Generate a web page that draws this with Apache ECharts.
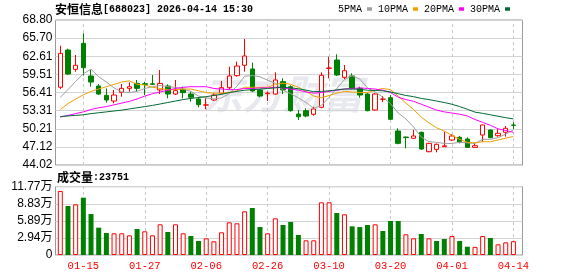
<!DOCTYPE html>
<html><head><meta charset="utf-8">
<script src="https://cdn.jsdelivr.net/npm/echarts@6/dist/echarts.min.js"></script>
<style>html,body{margin:0;padding:0;background:#fff}#c{width:578px;height:276px}</style>
</head><body><div id="c"></div>
<script>
const dates = ['01-12','01-13','01-14','01-15','01-16','01-19','01-20','01-21','01-22','01-23',
'01-26','01-27','01-28','01-29','01-30','02-02','02-03','02-04','02-05','02-06',
'02-09','02-10','02-11','02-12','02-13','02-24','02-25','02-26','02-27','03-02',
'03-03','03-04','03-05','03-06','03-09','03-10','03-11','03-12','03-13','03-16',
'03-17','03-18','03-19','03-20','03-23','03-24','03-25','03-26','03-27','03-30',
'03-31','04-01','04-02','04-03','04-07','04-08','04-09','04-10','04-13','04-14'];
const opens = [57.30,63.67,60.37,64.81,59.23,57.52,55.93,54.96,56.44,57.12,
57.97,57.92,57.90,56.84,57.52,56.15,56.96,56.15,55.30,54.25,
55.13,56.27,57.23,59.29,61.06,60.43,56.84,56.22,56.15,58.26,
57.40,52.73,53.30,52.68,53.88,60.52,61.96,59.00,59.23,57.12,
56.15,53.42,55.25,55.53,49.83,48.80,48.58,49.61,46.29,46.69,
47.15,48.29,48.75,48.46,47.04,49.15,50.00,49.03,49.61,50.85];
const closes = [63.10,59.57,61.06,60.65,58.20,56.15,55.13,55.98,57.12,57.40,
57.12,57.80,57.80,57.97,56.15,56.72,56.38,55.59,54.33,54.30,
55.98,57.23,59.23,60.94,62.65,56.67,55.81,56.30,58.55,56.84,
53.30,52.27,52.39,53.59,59.35,60.60,59.40,60.14,57.12,55.98,
53.30,56.15,55.30,51.83,47.72,48.70,48.98,46.75,47.72,47.56,
47.30,48.98,48.00,47.04,47.32,50.86,48.69,49.43,50.29,50.80];
const lows = [57.00,59.40,59.97,59.30,57.40,55.98,54.67,54.56,55.69,56.55,
56.55,55.98,57.69,56.15,55.42,55.98,55.42,54.84,53.88,53.54,
54.96,56.15,56.96,59.11,59.97,56.50,55.59,54.96,56.04,56.15,
53.13,51.71,52.17,52.45,53.71,58.83,59.23,58.67,56.96,55.53,
53.20,53.30,54.79,51.71,47.56,46.87,48.58,46.60,46.20,46.19,
47.15,48.12,47.72,46.92,47.00,48.00,48.60,48.86,48.86,50.17];
const highs = [64.40,63.90,62.82,66.52,60.37,57.86,57.12,56.84,57.86,58.15,
58.55,58.26,59.40,60.25,57.80,58.55,57.40,56.55,55.59,55.42,
56.27,58.38,60.82,61.68,65.55,61.50,57.00,56.55,59.86,58.83,
57.64,53.42,53.71,53.98,59.86,62.53,62.94,61.11,59.69,57.40,
56.30,56.30,55.81,55.98,50.29,48.86,50.00,49.70,47.80,47.70,
49.71,49.32,48.98,48.75,47.83,50.90,50.10,50.12,50.69,51.32];
const ma5 = [55.6,56.9,58.3,59.6,60.4,59.1,58.2,57.2,56.5,56.4,
56.6,57.1,57.4,57.6,57.4,57.3,57.0,56.6,55.8,55.5,
55.3,55.5,56.2,57.5,59.2,59.3,59.1,58.5,58.0,56.8,
56.2,55.5,54.7,53.7,54.2,55.6,57.1,58.6,59.3,58.7,
57.2,56.5,55.6,54.5,52.9,51.9,50.5,48.8,48.0,47.9,
47.7,47.7,47.9,47.8,47.7,48.4,48.4,48.7,49.3,50.0];
const ma10 = [53.5,54.5,55.3,56.0,56.6,57.0,57.4,57.8,58.2,58.4,
57.8,57.7,57.3,57.1,56.9,56.9,57.0,57.0,56.7,56.4,
56.3,56.3,56.4,56.7,57.3,57.3,57.3,57.3,57.8,58.0,
57.8,57.3,56.6,55.8,55.5,55.9,56.3,56.6,56.5,56.4,
56.4,56.8,57.1,56.9,55.8,54.6,53.5,52.2,51.2,50.4,
49.8,49.1,48.4,47.9,47.8,48.0,48.0,48.3,48.6,48.9];
const ma20 = [52.2,52.5,52.8,53.1,53.5,53.8,54.0,54.3,54.6,54.9,
55.3,55.8,56.2,56.5,56.8,57.1,57.3,57.4,57.4,57.4,
57.1,57.0,56.9,56.9,57.1,57.1,57.2,57.2,57.3,57.2,
57.0,56.8,56.5,56.3,56.4,56.6,56.8,57.0,57.1,57.2,
57.1,57.0,56.8,56.4,55.6,55.2,54.9,54.4,53.9,53.4,
53.1,52.9,52.7,52.4,51.8,51.3,50.8,50.2,49.9,49.6];
const ma30 = [52.3,52.4,52.5,52.6,52.8,52.95,53.1,53.25,53.4,53.6,
53.8,54.0,54.2,54.45,54.7,54.95,55.2,55.4,55.55,55.7,
55.9,56.1,56.4,56.6,56.8,56.9,57.0,57.1,57.2,57.3,
57.2,57.05,56.8,56.55,56.6,56.7,56.85,57.0,57.0,56.95,
56.8,56.75,56.7,56.5,56.2,55.9,55.7,55.4,55.2,54.95,
54.7,54.4,54.0,53.55,53.05,52.85,52.6,52.35,52.1,51.9];
const volumes = [110300,84400,87300,98800,70600,47100,37900,37400,37400,33900,
44800,40800,33900,52900,39600,52900,37400,32700,24100,28700,
23600,39100,56300,54600,75300,81000,48200,37400,63200,51700,
56900,34500,25300,25300,90800,90800,72400,70100,49400,48200,
51700,52900,41400,58600,58600,35700,28800,36200,28800,24100,
27600,32700,24100,14300,14000,32700,29300,18400,21800,23751];
const volDir = [1,-1,1,-1,-1,-1,-1,1,1,1,
-1,1,1,1,-1,1,1,-1,-1,1,
1,1,1,1,1,-1,-1,1,1,-1,
-1,-1,1,1,1,1,-1,1,-1,-1,
-1,1,-1,-1,-1,1,1,-1,1,-1,
-1,1,-1,-1,1,1,-1,1,1,1];
const priceTicks = ['44.02','47.12','50.21','53.31','56.41','59.51','62.61','65.70','68.80'];
const volTicks = ['0','2.94万','5.89万','8.83万','11.77万'];
const xTickLabels = ['01-15','01-27','02-06','02-26','03-10','03-20','04-01','04-14'];
const maNames = ['5PMA','10PMA','20PMA','30PMA'];

const RED = '#ff0000', GREEN = '#008000';
const MONO = 'Liberation Mono';
const chart = echarts.init(document.getElementById('c'));

const frameY = (ticks) => ({
  type: 'value', min: 0, max: ticks.length - 1, interval: 1,
  axisLine: {show: false}, axisTick: {show: false},
  axisLabel: {formatter: v => ticks[Math.round(v)], color: '#000', fontSize: 12,
    fontFamily: 'Liberation Sans, Noto Sans CJK SC', margin: 3},
  splitLine: {lineStyle: {color: '#d4d4d4', width: 1}}
});
const vLines = {
  silent: true, symbol: ['none', 'none'], label: {show: false}, z: 1, animation: false,
  lineStyle: {type: [3, 3], color: '#c8c8c8', width: 1},
  emphasis: {disabled: true},
  data: xTickLabels.map(d => ({xAxis: d}))
};

const maColors = ['#a0a0a0', '#f0a000', '#ff00ff', '#006a35'];
const maData = [ma5, ma10, ma20, ma30];

chart.setOption({
  animation: false,
  backgroundColor: '#fff',
  title: [
    {text: '{a|安恒信息}{b|[688023] 2026-04-14 15:30}', left: 55, top: 3, padding: 0,
     textStyle: {rich: {a: {fontFamily: 'Noto Sans CJK SC', fontSize: 12, color: '#000'},
                        b: {fontFamily: MONO, fontSize: 10, color: '#000'}}}},
    {text: '{a|成交量}{b|:' + volumes[volumes.length - 1] + '}', left: 57, top: 171, padding: 0,
     textStyle: {rich: {a: {fontFamily: 'Noto Sans CJK SC', fontSize: 12, color: '#000'},
                        b: {fontFamily: MONO, fontSize: 10, color: '#000'}}}}
  ],
  legend: {
    data: maNames, left: 338, top: 4, padding: 0, align: 'right', icon: 'rect',
    itemWidth: 5, itemHeight: 3.5, itemGap: 6, selectedMode: false,
    textStyle: {fontFamily: MONO, fontSize: 10, color: '#000'}
  },
  graphic: [{type: 'text', left: 203, top: 74, z: -10, silent: true,
    style: {text: '东方财富', font: 'italic bold 40px "Noto Sans CJK SC"', fill: '#e8e9ee'}}],
  grid: [
    {left: 55.5, top: 20, width: 467, height: 145, show: true, borderColor: '#999', borderWidth: 1},
    {left: 56.46, top: 20, width: 460.8, height: 145},
    {left: 55.5, top: 186.7, width: 467, height: 68.3, show: true, borderColor: '#999', borderWidth: 1},
    {left: 56.46, top: 186.7, width: 460.8, height: 68.3}
  ],
  xAxis: [
    {gridIndex: 0, type: 'value', min: 0, max: 1, show: false},
    {gridIndex: 1, type: 'category', data: dates, show: false},
    {gridIndex: 2, type: 'value', min: 0, max: 1, show: false},
    {gridIndex: 3, type: 'category', data: dates,
     axisLine: {show: false}, axisTick: {show: false}, splitLine: {show: false},
     axisLabel: {interval: (i, v) => xTickLabels.includes(v), color: RED, fontFamily: MONO,
       fontSize: 10.5, margin: 6}}
  ],
  yAxis: [
    Object.assign({gridIndex: 0}, frameY(priceTicks)),
    {gridIndex: 1, type: 'value', min: 44.02, max: 68.80, show: false},
    Object.assign({gridIndex: 2}, frameY(volTicks)),
    {gridIndex: 3, type: 'value', min: 0, max: 117700, show: false}
  ],
  series: [
    {type: 'candlestick', xAxisIndex: 1, yAxisIndex: 1, barWidth: 5,
     data: dates.map((d, i) => [opens[i], closes[i], lows[i], highs[i]]),
     itemStyle: {color: '#fff', color0: GREEN, borderColor: RED, borderColor0: GREEN, borderWidth: 1},
     markLine: vLines},
    ...maNames.map((n, k) => ({
      type: 'line', name: n, xAxisIndex: 1, yAxisIndex: 1, data: maData[k],
      symbol: 'none', lineStyle: {width: 1, color: maColors[k]}, itemStyle: {color: maColors[k]}
    })),
    {type: 'bar', xAxisIndex: 3, yAxisIndex: 3, barWidth: 5,
     data: volumes.map((v, i) => ({value: v, itemStyle: volDir[i] > 0
        ? {color: '#fff', borderColor: RED, borderWidth: 1}
        : {color: GREEN}})),
     markLine: vLines}
  ]
});
</script></body></html>
